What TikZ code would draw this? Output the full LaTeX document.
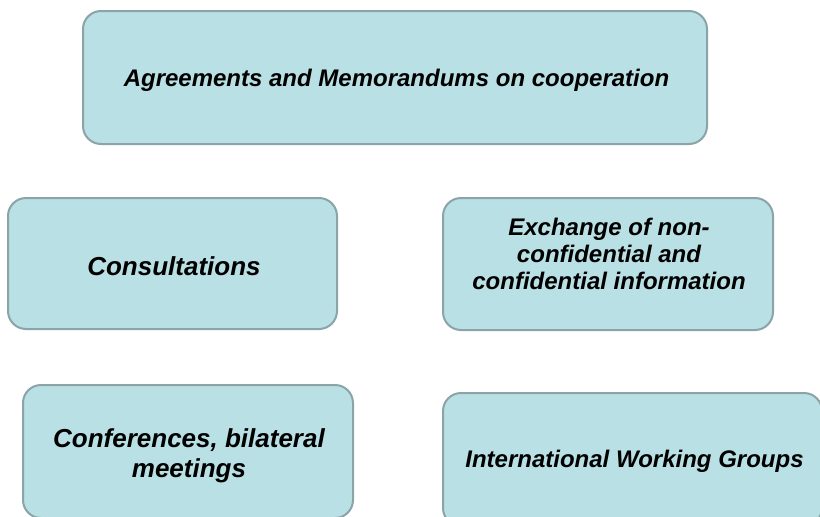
\documentclass[tikz,border=0pt]{standalone}
\usepackage{fontspec}
\setmainfont{Liberation Sans}
\definecolor{boxfill}{RGB}{185,224,228}
\definecolor{boxline}{RGB}{139,164,168}
\begin{document}
\begin{tikzpicture}[x=1pt,y=-1pt,
  box/.style={draw=boxline, fill=boxfill, line width=2pt, rounded corners=18pt, inner sep=0pt, outer sep=0pt},
  lbl/.style={inner sep=0pt, font=\bfseries\itshape, align=center, text=black}]
\useasboundingbox (0,0) rectangle (820,517);
\clip (0,0) rectangle (820,517);
\fill[white] (0,0) rectangle (820,517);
\node[box, minimum width=624pt, minimum height=133pt] (agr) at (395,77.5) {};
\node[box, minimum width=329pt, minimum height=131pt] (cons) at (172.5,263.5) {};
\node[box, minimum width=330pt, minimum height=132pt] (exch) at (608,264) {};
\node[box, minimum width=330pt, minimum height=133pt] (conf) at (188,451.5) {};
\node[box, minimum width=379pt, minimum height=133pt] (iwg) at (632.5,459.5) {};
\node[lbl, font=\fontsize{24}{27}\selectfont\bfseries\itshape, anchor=base] (tagr) at (396.5,86) {Agreements and Memorandums on cooperation};
\node[lbl, font=\fontsize{26}{30}\selectfont\bfseries\itshape, anchor=base] (tcons) at (174,275) {Consultations};
\node[lbl, font=\fontsize{24}{27}\selectfont\bfseries\itshape, anchor=north] (texch) at (609,218) {Exchange of non-\\confidential and\\confidential information};
\node[lbl, font=\fontsize{26}{30}\selectfont\bfseries\itshape, anchor=north] (tconf) at (189,428) {Conferences, bilateral\\meetings};
\node[lbl, font=\fontsize{24}{27}\selectfont\bfseries\itshape, anchor=base] (tiwg) at (634.5,467) {International Working Groups};
\end{tikzpicture}
\end{document}
